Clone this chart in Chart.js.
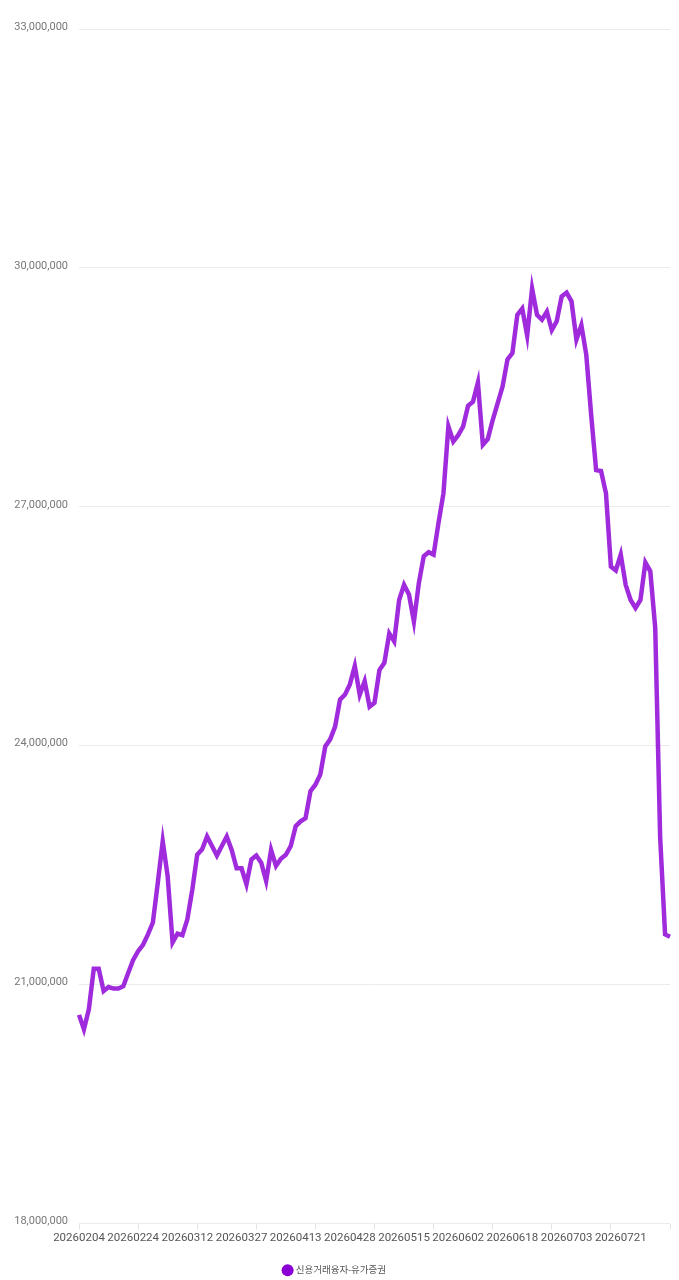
<!DOCTYPE html>
<html>
<head>
<meta charset="utf-8">
<script src="https://cdn.jsdelivr.net/npm/chart.js@4/dist/chart.umd.min.js"></script>
<style>
  html, body { margin: 0; padding: 0; background: #fff; }
  #wrap { width: 679px; height: 1280px; position: relative; }
</style>
</head>
<body>
<div id="wrap"><canvas id="c"></canvas></div>
<script>
const seriesName = '신용거래융자-유가증권';

const dates = ['20260204','20260205','20260206','20260209','20260210','20260211','20260212','20260213','20260219','20260220','20260223','20260224','20260225','20260226','20260227',
'20260303','20260304','20260305','20260306','20260309','20260310','20260311','20260312','20260313','20260316','20260317','20260318','20260319','20260320','20260323','20260324','20260325','20260326','20260327','20260330','20260331',
'20260401','20260402','20260403','20260406','20260407','20260408','20260409','20260410','20260413','20260414','20260415','20260416','20260417','20260420','20260421','20260422','20260423','20260424','20260427','20260428','20260429','20260430',
'20260504','20260506','20260507','20260508','20260511','20260512','20260513','20260514','20260515','20260518','20260519','20260520','20260521','20260522','20260526','20260527','20260528','20260529',
'20260601','20260602','20260604','20260605','20260608','20260609','20260610','20260611','20260612','20260615','20260616','20260617','20260618','20260619','20260622','20260623','20260624','20260625','20260626','20260629','20260630',
'20260701','20260702','20260703','20260706','20260707','20260708','20260709','20260710','20260713','20260714','20260715','20260716','20260720','20260721','20260722','20260723','20260724','20260727','20260728','20260729','20260730','20260731',
'20260803','20260804'];

const creditLoanKospi = [
20620000,20440000,20690000,21200000,21200000,20920000,20970000,20950000,20950000,20980000,
21150000,21310000,21420000,21500000,21630000,21780000,22280000,22800000,22360000,21530000,
21640000,21620000,21820000,22190000,22630000,22700000,22860000,22740000,22620000,22740000,
22860000,22690000,22460000,22460000,22260000,22570000,22620000,22530000,22300000,22690000,
22490000,22580000,22630000,22740000,22990000,23050000,23090000,23430000,23510000,23640000,
23990000,24080000,24240000,24580000,24640000,24770000,25000000,24640000,24810000,24490000,
24540000,24950000,25040000,25410000,25310000,25830000,26020000,25900000,25560000,26040000,
26380000,26430000,26400000,26800000,27170000,28010000,27820000,27900000,28010000,28270000,
28320000,28560000,27780000,27850000,28090000,28300000,28510000,28850000,28930000,29410000,
29490000,29150000,29740000,29410000,29350000,29450000,29220000,29330000,29640000,29690000,
29580000,29100000,29280000,28910000,28150000,27460000,27450000,27170000,26250000,26200000,
26400000,26020000,25830000,25730000,25830000,26300000,26190000,25480000,22850000,21630000,
21600000];

const yMin = 18000000;
const yMax = 33000000;
const yStep = 3000000;
const labelEvery = 11;
const tickMarkEvery = 12;

new Chart(document.getElementById('c'), {
  type: 'line',
  data: {
    labels: dates,
    datasets: [{
      label: seriesName,
      data: creditLoanKospi,
      borderColor: 'rgba(140,0,214,0.83)',
      backgroundColor: '#8a00d4',
      borderWidth: 4.5,
      pointRadius: 0,
      pointHoverRadius: 0,
      tension: 0,
      fill: false
    }]
  },
  options: {
    responsive: true,
    maintainAspectRatio: false,
    animation: false,
    layout: { padding: { top: 29, right: 9, left: 0, bottom: -5 } },
    plugins: {
      tooltip: { enabled: false },
      legend: {
        position: 'bottom',
        labels: {
          usePointStyle: true,
          boxHeight: 8.5,
          boxWidth: 7,
          padding: 6,
          color: '#555',
          font: { family: 'Roboto, "Noto Sans CJK KR", sans-serif', size: 9.5 },
          generateLabels(chart) {
            const items = Chart.defaults.plugins.legend.labels.generateLabels(chart);
            items.forEach(it => { it.lineWidth = 0; it.strokeStyle = 'rgba(0,0,0,0)'; it.fillStyle = '#8a00d4'; it.pointStyle = 'circle'; });
            return items;
          }
        }
      }
    },
    scales: {
      x: {
        type: 'category',
        border: { display: false },
        grid: {
          display: true,
          drawOnChartArea: false,
          drawTicks: true,
          tickLength: 6,
          color: ctx => (ctx.index % tickMarkEvery === 0 ? '#e3e3e3' : 'rgba(0,0,0,0)')
        },
        ticks: {
          autoSkip: false,
          maxRotation: 0,
          minRotation: 0,
          padding: 2,
          color: '#555',
          font: { family: 'Roboto, sans-serif', size: 11.5 },
          callback(val, i) { return i % labelEvery === 0 ? this.getLabelForValue(val) : ''; }
        },
        afterFit(scale) { scale.height = 36; }
      },
      y: {
        min: yMin,
        max: yMax,
        border: { display: false },
        grid: { color: '#ebebeb', drawTicks: false, lineWidth: 1 },
        ticks: {
          stepSize: yStep,
          padding: 11,
          labelOffset: -2,
          color: '#777',
          font: { family: 'Roboto, sans-serif', size: 11 },
          callback: v => Number(v).toLocaleString('en-US')
        },
        afterFit(scale) { scale.width = 79; }
      }
    }
  }
});
</script>
</body>
</html>
